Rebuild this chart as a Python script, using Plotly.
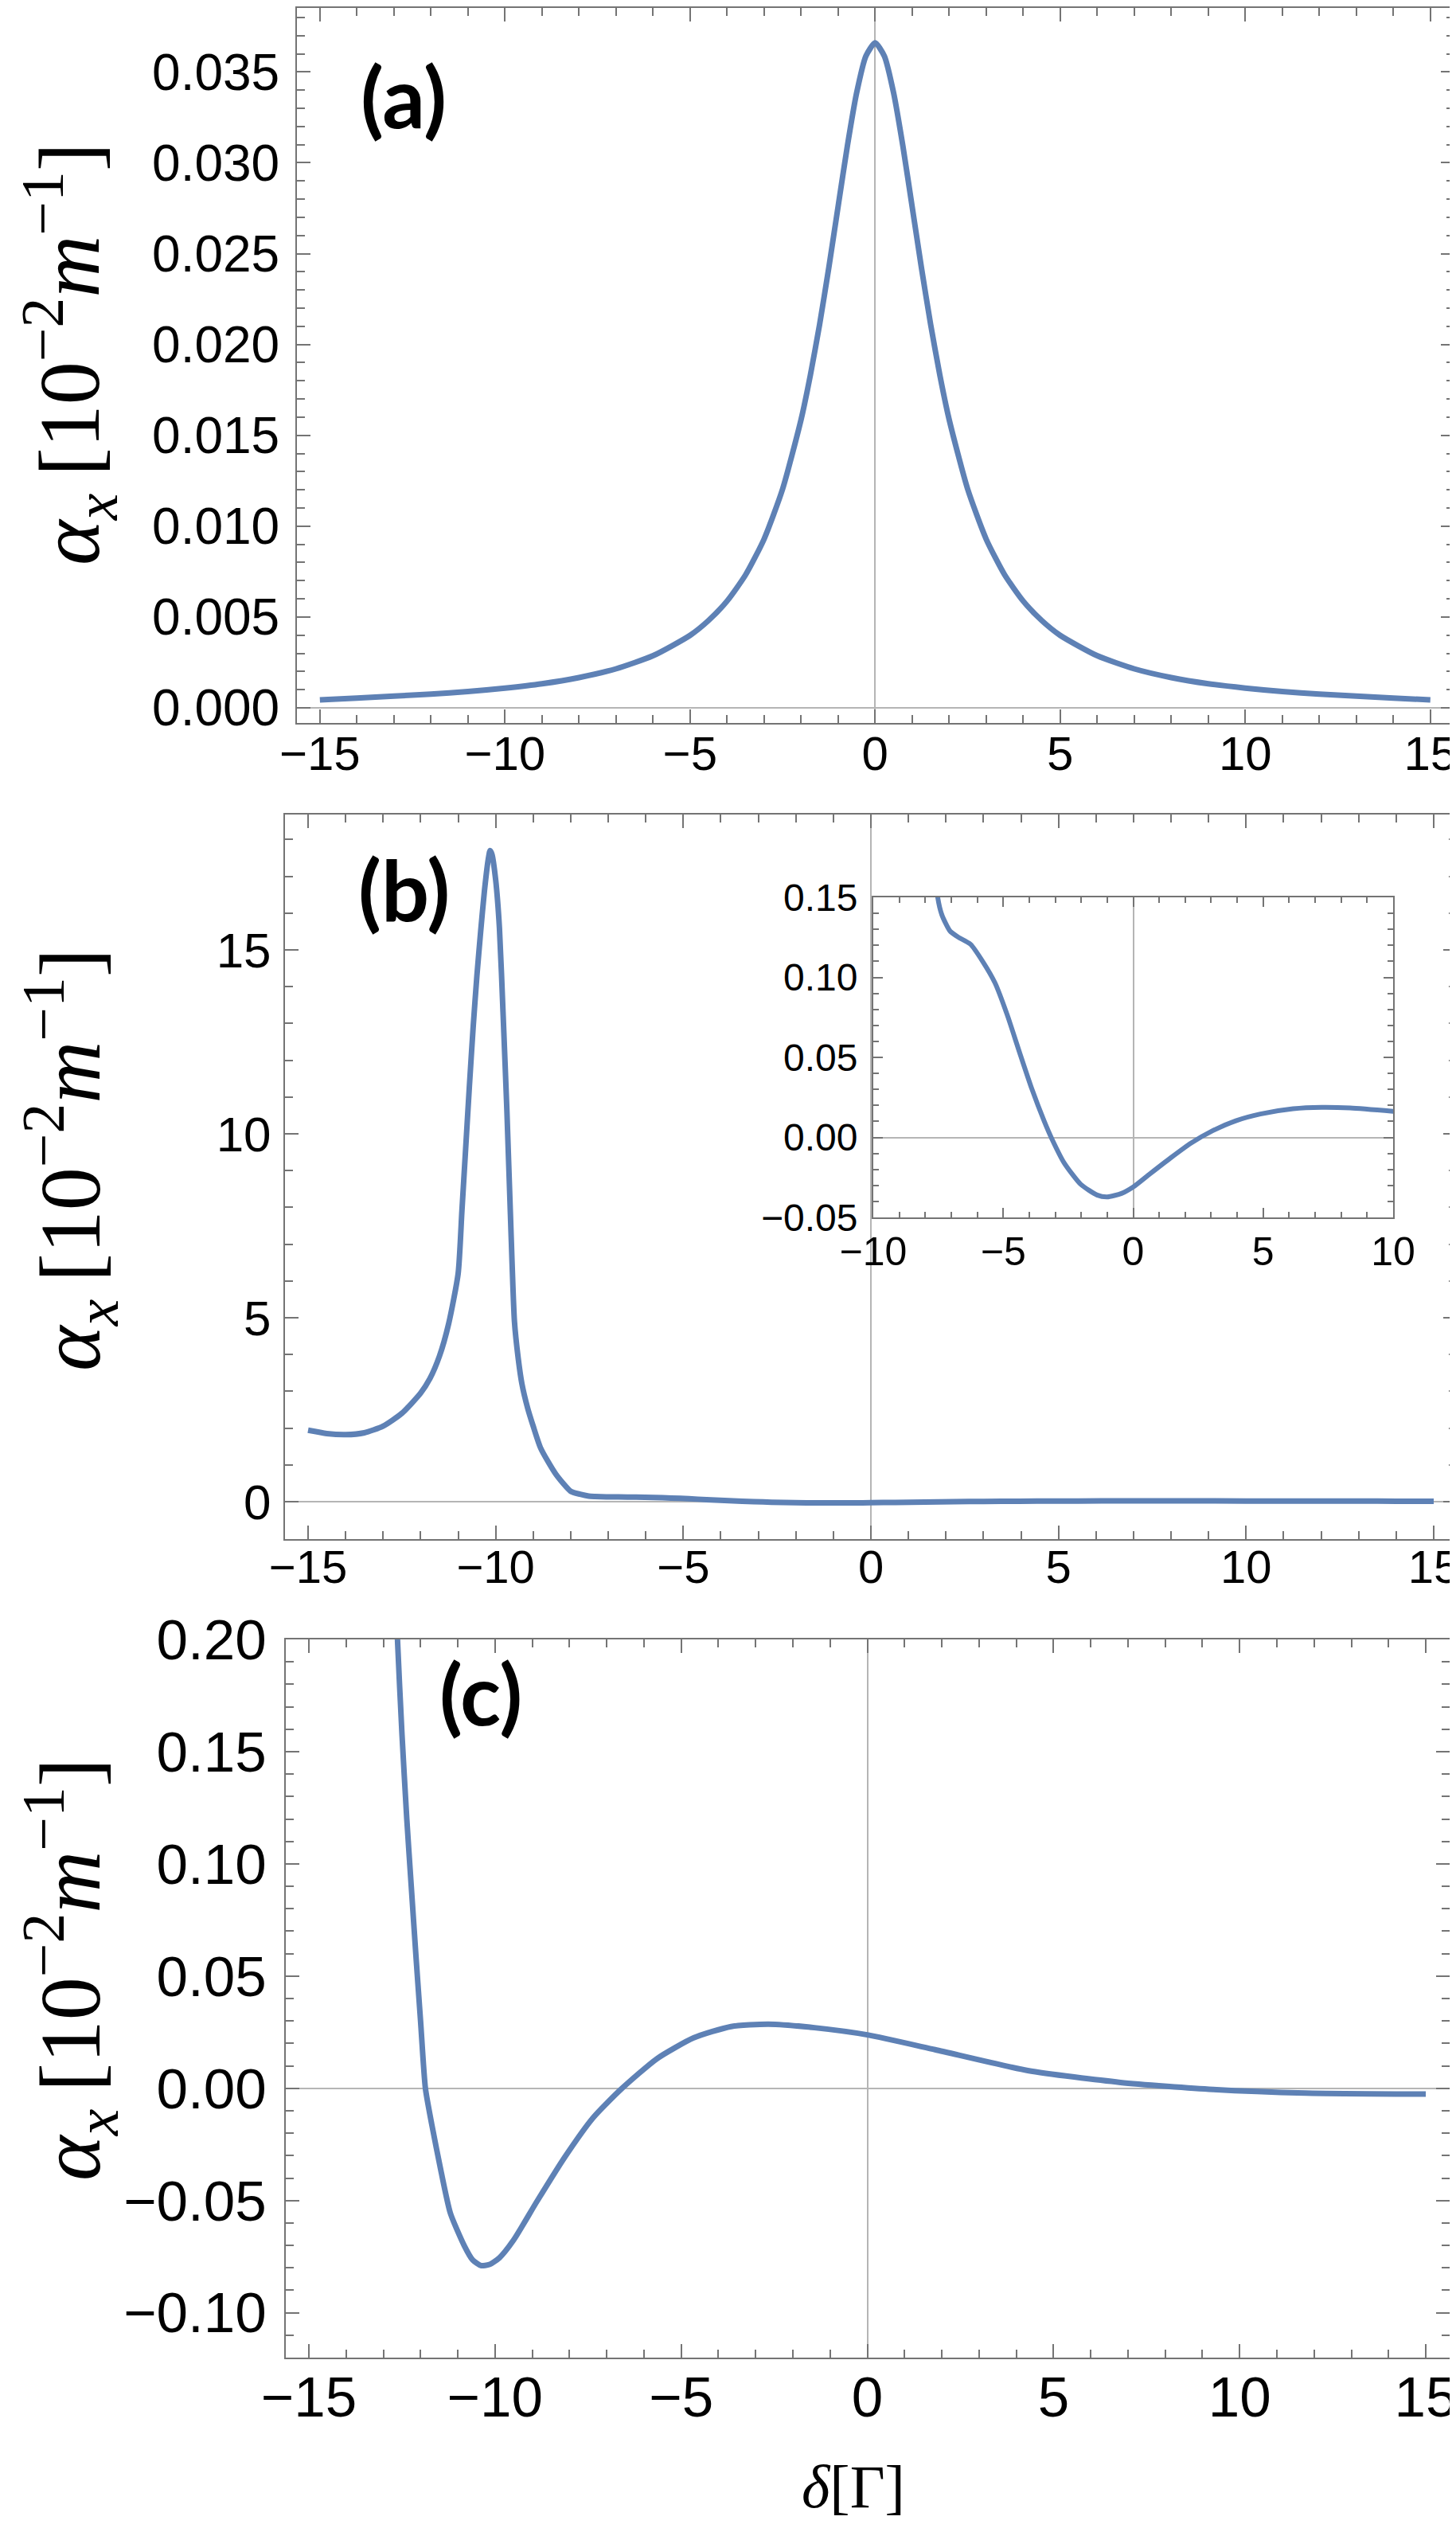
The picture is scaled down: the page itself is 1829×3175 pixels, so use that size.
import plotly.graph_objects as go

W, H = 1829, 3175

# ---------------- data ----------------
# panel (a)
xa = [-15, -14, -13, -12, -11, -10, -9, -8, -7, -6, -5, -4.5, -4, -3.5, -3, -2.5, -2,
      -1.75, -1.5, -1.25, -1, -0.75, -0.5, -0.25, 0,
      0.25, 0.5, 0.75, 1, 1.25, 1.5, 1.75, 2, 2.5, 3, 3.5, 4, 4.5, 5,
      6, 7, 8, 9, 10, 11, 12, 13, 14, 15]
ya = [0.00044, 0.00054, 0.00065, 0.00076, 0.00090, 0.00109, 0.00133, 0.00167, 0.00215,
      0.00287, 0.00399, 0.00481, 0.00588, 0.00732, 0.00929, 0.01204, 0.01587,
      0.0183, 0.0211, 0.02424, 0.02759, 0.03092, 0.03384, 0.03587, 0.0366,
      0.03587, 0.03384, 0.03092, 0.02759, 0.02424, 0.0211, 0.0183, 0.01587,
      0.01204, 0.00929, 0.00732, 0.00588, 0.00481, 0.00399,
      0.00287, 0.00215, 0.00167, 0.00133, 0.00109, 0.00090, 0.00076, 0.00065,
      0.00054, 0.00044]

# panel (b) (main curve and inset share these values)
xb = [-15, -14.5, -14, -13.5, -13, -12.5, -12, -11.75, -11.5, -11.25, -11, -10.9,
      -10.8, -10.7, -10.6, -10.5, -10.4, -10.3, -10.2, -10.15, -10.1, -10.0, -9.9,
      -9.8, -9.7, -9.6, -9.5, -9.4, -9.3, -9.15, -9.0, -8.8, -8.4, -8.0, -7.75,
      -7.52, -7.36, -7.05, -6.73, -6.26, -5.79, -5.32, -4.85, -4.38, -3.9, -3.43,
      -3.12, -2.65, -2.02, -1.39, -1.0, -0.45, 0, 0.65, 1.44, 2.22, 3.01, 3.95,
      4.89, 6.15, 7.25, 8.35, 10, 11, 12, 13, 14, 15]
yb = [1.94, 1.85, 1.82, 1.87, 2.05, 2.4, 2.95, 3.35, 3.95, 4.85, 6.2, 7.9,
      9.6, 11.3, 12.9, 14.3, 15.5, 16.6, 17.45, 17.7, 17.6, 16.9, 15.6,
      13.2, 10.6, 7.6, 4.9, 3.9, 3.2, 2.55, 2.05, 1.45, 0.75, 0.28, 0.2,
      0.15, 0.139, 0.129, 0.1251, 0.1207, 0.1099, 0.0966, 0.0767, 0.0535, 0.0303, 0.0104,
      -0.0012, -0.0161, -0.0293, -0.036, -0.0372, -0.035, -0.031, -0.0227, -0.0128, -0.0036, 0.0038, 0.0104,
      0.0146, 0.0179, 0.0188, 0.0184, 0.0163, 0.0148, 0.0133, 0.0119, 0.0106, 0.0095]

# panel (c)
xc = [-13.0, -12.75, -12.62, -12.5, -12.37, -12.25, -12.12, -12.0, -11.87, -11.7,
      -11.45, -11.2, -10.83, -10.6, -10.38, -10.15, -9.88, -9.5, -8.87, -8.12,
      -7.37, -6.62, -5.65, -4.66, -3.66, -2.66, -1.42, 0, 1.82, 4.31, 6.8, 9.29,
      11.78, 15]
yc = [0.45, 0.26, 0.20, 0.158, 0.12, 0.09, 0.058, 0.03, 0.0, -0.016,
      -0.037, -0.0556, -0.070, -0.0765, -0.079, -0.0785, -0.0755, -0.0676, -0.0503, -0.0305,
      -0.0132, -0.0005, 0.0132, 0.0225, 0.0275, 0.0286, 0.027, 0.0238, 0.0172, 0.0079, 0.0026, -0.0005,
      -0.0021, -0.0026]

panel_labels = ["(a)", "(b)", "(c)"]
ytitle = "<i>α</i><sub><i>x</i></sub>\u2009[10<sup>−2</sup><i>m</i><sup>−1</sup>]"
xtitle = "<i>δ</i>[Γ]"

LINE = "#5E81B5"
FRAME = "#747474"
AXISC = "#b5b5b5"


def tf(size):
    return dict(family="Liberation Sans, Arial, sans-serif", size=size, color="black")


def px_x(p):
    return p / W


def px_y(p):
    return 1 - p / H


fig = go.Figure()
for xs, ys, xr, yr, wd in [(xa, ya, "x", "y", 7), (xb, yb, "x2", "y2", 7),
                           (xc, yc, "x3", "y3", 7), (xb, yb, "x4", "y4", 6)]:
    fig.add_trace(go.Scatter(x=xs, y=ys, mode="lines",
                             line=dict(color=LINE, width=wd, shape="spline", smoothing=0.6),
                             xaxis=xr, yaxis=yr, showlegend=False))


def axis(domain, rng, dtick, minor_dtick, anchor, font, fmt=None,
         standoff=10, ticklen=17, minorlen=10):
    d = dict(domain=domain, range=rng, anchor=anchor, dtick=dtick, tick0=0,
             automargin=False,
             ticks="inside", ticklen=ticklen, tickwidth=2, tickcolor=FRAME,
             showline=True, linecolor=FRAME, linewidth=2, mirror="ticks",
             showgrid=False, zeroline=True, zerolinecolor=AXISC, zerolinewidth=1.5,
             tickfont=font, ticklabelstandoff=standoff,
             minor=dict(ticks="inside", ticklen=minorlen, tickwidth=2, tickcolor=FRAME,
                        dtick=minor_dtick, tick0=0, showgrid=False))
    if fmt:
        d["tickformat"] = fmt
    return d


fig.update_layout(
    width=W, height=H, margin=dict(l=0, r=0, t=0, b=0),
    paper_bgcolor="white", plot_bgcolor="white",
    xaxis=axis([px_x(365), px_x(1819)], [-15.62, 15.65], 5, 1, "y", tf(60), standoff=-15),
    yaxis=axis([px_y(900), px_y(2)], [-0.00083, 0.03852], 0.005, 0.001, "x", tf(64),
               fmt=".3f", standoff=7),
    xaxis2=axis([px_x(350), px_x(1822)], [-15.615, 15.615], 5, 1, "y2", tf(58), standoff=-17),
    yaxis2=axis([px_y(1925), px_y(1015)], [-1.02, 18.68], 5, 1, "x2", tf(62), standoff=3),
    xaxis3=axis([px_x(351), px_x(1813)], [-15.62, 15.64], 5, 1, "y3", tf(71), standoff=-13),
    yaxis3=axis([px_y(2953), px_y(2051)], [-0.12, 0.20], 0.05, 0.01, "x3", tf(71),
                fmt=".2f", standoff=8),
    xaxis4=axis([px_x(1089), px_x(1742)], [-10, 10], 5, 1, "y4", tf(50),
                standoff=-2, ticklen=12, minorlen=7),
    yaxis4=axis([px_y(1521), px_y(1119)], [-0.05, 0.15], 0.05, 0.01, "x4", tf(48),
                fmt=".2f", standoff=8, ticklen=12, minorlen=7),
)

label_font = dict(family="Lato, Open Sans, sans-serif", size=106, color="black")
title_font = dict(family="Liberation Serif, Times New Roman, serif", size=108, color="black")

for txt, (cx, cy) in zip(panel_labels, [(499, 112), (499, 1108), (596, 2118)]):
    fig.add_annotation(text="<b>" + txt + "</b>", x=px_x(cx), y=px_y(cy),
                       xref="paper", yref="paper", showarrow=False,
                       xanchor="center", yanchor="middle", font=label_font)

for cy in [437, 1449, 2466]:
    fig.add_annotation(text=ytitle, x=px_x(80), y=px_y(cy), xref="paper", yref="paper",
                       showarrow=False, textangle=-90, xanchor="center", yanchor="middle",
                       font=title_font)

fig.add_annotation(text=xtitle, x=px_x(1064), y=px_y(3115), xref="paper", yref="paper",
                   showarrow=False, xanchor="center", yanchor="middle",
                   font=dict(family="Liberation Serif, Times New Roman, serif", size=76,
                             color="black"))

fig.write_html("out.html")
